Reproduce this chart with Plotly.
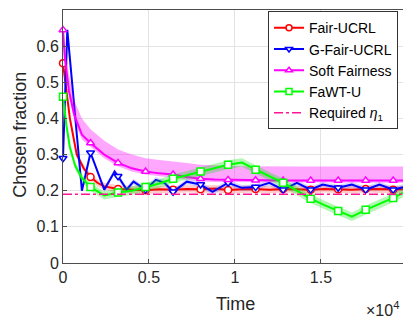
import plotly.graph_objects as go

# ---------------- data (time in raw steps, axis shown in units of 1e4) ----------------
red_t = [0, 200, 400, 600, 800, 1200, 1600, 2000, 2400, 3200, 4000, 4800, 5600, 6400, 7200, 8000,
         8800, 9600, 10400, 11200, 12000, 12800, 13600, 14400, 15200, 16000, 16800, 17600, 18400, 19200, 19770]
red_y = [0.553, 0.47, 0.40, 0.35, 0.30, 0.262, 0.238, 0.222, 0.212, 0.205, 0.203, 0.201, 0.204, 0.203, 0.205, 0.204,
         0.206, 0.202, 0.204, 0.205, 0.203, 0.205, 0.204, 0.203, 0.205, 0.204, 0.203, 0.205, 0.204, 0.203, 0.204]
red_lo = [0.553, 0.46, 0.39, 0.34, 0.29, 0.252, 0.228, 0.212, 0.202, 0.195, 0.193, 0.191, 0.194, 0.193, 0.195, 0.194,
          0.196, 0.192, 0.194, 0.195, 0.193, 0.195, 0.194, 0.193, 0.195, 0.194, 0.193, 0.195, 0.194, 0.193, 0.194]
red_hi = [0.553, 0.48, 0.41, 0.36, 0.31, 0.272, 0.248, 0.232, 0.222, 0.215, 0.213, 0.211, 0.214, 0.213, 0.215, 0.214,
          0.216, 0.212, 0.214, 0.215, 0.213, 0.215, 0.214, 0.213, 0.215, 0.214, 0.213, 0.215, 0.214, 0.213, 0.214]

blue_t = [0, 250, 1100, 1600, 2400, 3000, 3200, 3700, 4100, 4800, 5400, 5900, 6400, 7200, 8000, 8700, 9600,
          10400, 11200, 12000, 12800, 13600, 14400, 15100, 16000, 16800, 17600, 18400, 19200, 19770]
blue_y = [0.29, 0.645, 0.20, 0.305, 0.203, 0.253, 0.24, 0.203, 0.225, 0.203, 0.23, 0.222, 0.197, 0.225, 0.217, 0.197, 0.222,
          0.208, 0.21, 0.222, 0.203, 0.222, 0.203, 0.217, 0.208, 0.217, 0.203, 0.217, 0.203, 0.21]
blue_lo = [0.29, 0.64, 0.195, 0.297, 0.195, 0.245, 0.232, 0.195, 0.217, 0.195, 0.222, 0.214, 0.189, 0.217, 0.209, 0.189, 0.214,
           0.2, 0.202, 0.214, 0.195, 0.214, 0.195, 0.209, 0.2, 0.209, 0.195, 0.209, 0.195, 0.202]
blue_hi = [0.29, 0.65, 0.205, 0.313, 0.211, 0.261, 0.248, 0.211, 0.233, 0.211, 0.238, 0.23, 0.205, 0.233, 0.225, 0.205, 0.23,
           0.216, 0.218, 0.23, 0.211, 0.23, 0.211, 0.225, 0.216, 0.225, 0.211, 0.225, 0.211, 0.218]

mag_t = [0, 100, 350, 650, 1100, 1600, 2400, 3200, 4000, 4800, 5600, 6400, 7200, 8000, 8800, 9600,
         10400, 11200, 12000, 12800, 13600, 14400, 15200, 16000, 16800, 17600, 18400, 19200, 19770]
mag_y = [0.645, 0.57, 0.475, 0.41, 0.355, 0.332, 0.30, 0.277, 0.262, 0.253, 0.248, 0.245, 0.238, 0.233, 0.231, 0.230,
         0.229, 0.229, 0.228, 0.228, 0.228, 0.228, 0.228, 0.228, 0.228, 0.228, 0.228, 0.228, 0.228]
mag_lo = [0.645, 0.55, 0.46, 0.395, 0.342, 0.322, 0.29, 0.268, 0.253, 0.245, 0.240, 0.237, 0.231, 0.226, 0.224, 0.223,
          0.222, 0.222, 0.222, 0.222, 0.222, 0.222, 0.222, 0.222, 0.222, 0.222, 0.222, 0.222, 0.222]
mag_hi = [0.645, 0.60, 0.52, 0.45, 0.40, 0.37, 0.338, 0.314, 0.30, 0.29, 0.285, 0.282, 0.277, 0.272, 0.27, 0.269,
          0.268, 0.268, 0.267, 0.267, 0.267, 0.267, 0.267, 0.267, 0.267, 0.267, 0.267, 0.267, 0.267]

green_t = [0, 200, 400, 700, 1100, 1600, 2400, 3200, 4000, 4800, 5600, 6400, 7200, 8000, 8800, 9600,
           10400, 11200, 12000, 12800, 13600, 14400, 15200, 16000, 16800, 17600, 18400, 19200, 19770]
green_y = [0.46, 0.38, 0.32, 0.27, 0.235, 0.21, 0.187, 0.195, 0.20, 0.21, 0.22, 0.233, 0.243, 0.253, 0.262, 0.272,
           0.278, 0.258, 0.24, 0.222, 0.20, 0.178, 0.16, 0.144, 0.128, 0.147, 0.163, 0.18, 0.194]
green_lo = [0.46, 0.37, 0.31, 0.26, 0.225, 0.199, 0.176, 0.183, 0.188, 0.198, 0.208, 0.221, 0.231, 0.241, 0.25, 0.26,
            0.266, 0.246, 0.228, 0.21, 0.188, 0.166, 0.148, 0.132, 0.116, 0.135, 0.151, 0.168, 0.182]
green_hi = [0.46, 0.39, 0.33, 0.28, 0.245, 0.221, 0.198, 0.207, 0.212, 0.222, 0.232, 0.245, 0.255, 0.265, 0.274, 0.284,
            0.29, 0.27, 0.252, 0.234, 0.212, 0.19, 0.172, 0.156, 0.14, 0.159, 0.175, 0.192, 0.206]

req_t = [0, 19770]
req_y = [0.19, 0.19]
marker_every = 1600

x_tickvals = [0, 5000, 10000, 15000, 20000]
x_ticktext = ["0", "0.5", "1", "1.5", "2"]
y_tickvals = [0, 0.1, 0.2, 0.3, 0.4, 0.5, 0.6]
y_ticktext = ["0", "0.1", "0.2", "0.3", "0.4", "0.5", "0.6"]

FONT = "Liberation Sans, Arial, sans-serif"

series = [
    ("Fair-UCRL", red_t, red_y, red_lo, red_hi, "#ff0000", "rgba(255,0,0,0.2)", "circle"),
    ("G-Fair-UCRL", blue_t, blue_y, blue_lo, blue_hi, "#0000ff", "rgba(0,0,255,0.15)", "triangle-down"),
    ("Soft Fairness", mag_t, mag_y, mag_lo, mag_hi, "#ff00ff", "rgba(255,0,255,0.35)", "triangle-up"),
    ("FaWT-U", green_t, green_y, green_lo, green_hi, "#00ff00", "rgba(0,230,0,0.3)", "square"),
]

fig = go.Figure()
for name, t, y, lo, hi, col, fcol, sym in series:
    fig.add_trace(go.Scatter(x=t + t[::-1], y=hi + lo[::-1], fill="toself", fillcolor=fcol,
                             line=dict(width=0), mode="lines", hoverinfo="skip", showlegend=False))
    fig.add_trace(go.Scatter(x=t, y=y, mode="lines", line=dict(color=col, width=2), showlegend=False))
    mt = [a for a in t if a % marker_every == 0]
    my = [b for a, b in zip(t, y) if a % marker_every == 0]
    fig.add_trace(go.Scatter(x=mt, y=my, mode="markers", showlegend=False, cliponaxis=False,
                             marker=dict(symbol=sym, size=7, color="white", line=dict(color=col, width=1.5))))

fig.add_trace(go.Scatter(x=req_t, y=req_y, mode="lines", showlegend=False,
                         line=dict(color="#ff1493", width=1.5, dash="dashdot")))

# legend entries
for name, t, y, lo, hi, col, fcol, sym in series:
    fig.add_trace(go.Scatter(x=[None], y=[None], mode="lines+markers", name=name,
                             line=dict(color=col, width=2),
                             marker=dict(symbol=sym, size=6, color="white", line=dict(color=col, width=1.5))))
fig.add_trace(go.Scatter(x=[None], y=[None], mode="lines", name="Required <i>η</i><sub>1</sub>",
                         line=dict(color="#ff1493", width=1.5, dash="dashdot")))

fig.update_layout(
    width=403, height=318,
    margin=dict(l=63, r=0, t=10, b=55),
    paper_bgcolor="white", plot_bgcolor="white",
    font=dict(family=FONT, size=16, color="#262626"),
    showlegend=True,
    legend=dict(x=0.603, y=0.995, xanchor="left", yanchor="top",
                bgcolor="white", bordercolor="#333333", borderwidth=1,
                font=dict(family=FONT, size=14, color="black"),
                tracegroupgap=0),
    xaxis=dict(range=[0, 19770], tickvals=x_tickvals, ticktext=x_ticktext,
               showgrid=True, gridcolor="#e3e3e3", gridwidth=1,
               showline=True, linecolor="#4d4d4d", linewidth=1, mirror=True,
               ticks="inside", ticklen=4, tickcolor="#4d4d4d",
               tickfont=dict(size=16, color="#262626"), zeroline=False),
    yaxis=dict(range=[0, 0.7], tickvals=y_tickvals, ticktext=y_ticktext,
               showgrid=True, gridcolor="#e3e3e3", gridwidth=1,
               showline=True, linecolor="#4d4d4d", linewidth=1, mirror=False,
               ticks="inside", ticklen=4, tickcolor="#4d4d4d",
               tickfont=dict(size=16, color="#262626"), zeroline=False),
    annotations=[
        dict(text="Chosen fraction", xref="paper", yref="paper", x=-0.127, y=0.506,
             xanchor="center", yanchor="middle", textangle=-90, showarrow=False,
             font=dict(family=FONT, size=18, color="#262626")),
        dict(text="Time", xref="paper", yref="paper", x=0.507, y=-0.162,
             xanchor="center", yanchor="middle", showarrow=False,
             font=dict(family=FONT, size=18, color="#262626")),
        dict(text="×10<sup>4</sup>", xref="paper", yref="paper", x=0.885, y=-0.18,
             xanchor="left", yanchor="middle", showarrow=False,
             font=dict(family=FONT, size=16, color="#262626")),
    ],
)

fig.write_html("out.html", config={"displayModeBar": False},
               post_script="document.body.style.margin='0px';document.body.style.overflow='hidden';")
